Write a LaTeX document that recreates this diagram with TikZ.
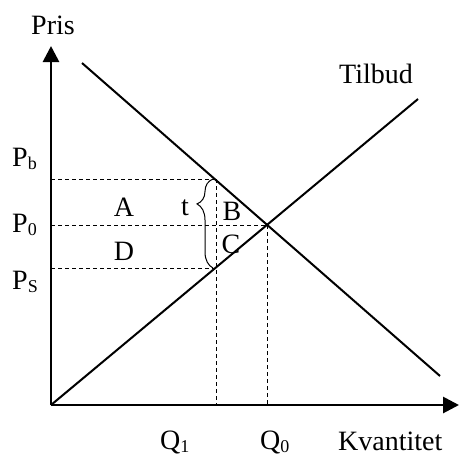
\documentclass[tikz,border=0pt]{standalone}
\usepackage{fontspec}
\setmainfont{Liberation Serif}
\usetikzlibrary{arrows.meta,decorations.pathreplacing}
\newcommand\mysub[1]{\raisebox{-3pt}{\fontsize{18}{18}\selectfont #1}}
\begin{document}
\begin{tikzpicture}[x=1pt,y=-1pt,
  font=\fontsize{28}{32}\selectfont,
  axisline/.style={line width=2.8pt,-{Triangle[width=16pt,length=16pt]}},
  curve/.style={line width=2pt},
  guide/.style={line width=1pt,dash pattern=on 4pt off 3pt},
  lbl/.style={inner sep=0pt,anchor=base},
  lblw/.style={inner sep=0pt,anchor=base west}]
\useasboundingbox (0,0) rectangle (460,456);
% coordinates
\coordinate (O) at (51,405);
\coordinate (Ytop) at (51,46);
\coordinate (Xend) at (459,405);
\coordinate (D1) at (82,63);
\coordinate (D2) at (440,376);
\coordinate (S2) at (418,99);
\coordinate (E) at (267,225);
\coordinate (Bt) at (216,179);
\coordinate (Bs) at (216,268);
\coordinate (Pbax) at (51,179);
\coordinate (P0ax) at (51,225);
\coordinate (Psax) at (51,268);
\coordinate (Q1ax) at (216,405);
\coordinate (Q0ax) at (267,405);
\coordinate (Br1) at (213,268);
\coordinate (Br2) at (213,179);
% guides
\draw[guide] (Pbax) -- (Bt);
\draw[guide] (P0ax) -- (E);
\draw[guide] (Psax) -- (Bs);
\draw[guide] (Bt) -- (Q1ax);
\draw[guide] (E) -- (Q0ax);
% curves
\draw[curve] (D1) -- (D2);
\draw[curve] (O) -- (S2);
% axes
\draw[axisline] (O) -- (Ytop);
\draw[axisline] (O) -- (Xend);
% brace
\draw[line width=1pt,decorate,decoration={brace,amplitude=16pt,aspect=0.72}] (Br1) -- (Br2);
% labels
\node[lblw] (pris) at (31,34) {Pris};
\node[lblw] (pb) at (12,166) {P\mysub{b}};
\node[lblw] (p0) at (12,232) {P\mysub{0}};
\node[lblw] (ps) at (12,289) {P\mysub{S}};
\node[lbl] (la) at (124,216) {A};
\node[lbl] (ld) at (124,260) {D};
\node[lbl] (lt) at (185,215) {t};
\node[lbl] (lb) at (232,220) {B};
\node[lbl] (lc) at (231,253) {C};
\node[inner sep=0pt,anchor=base east] (tilbud) at (413,83) {Tilbud};
\node[lblw] (q1) at (160,449) {Q\mysub{1}};
\node[lblw] (q0) at (260,449) {Q\mysub{0}};
\node[lblw] (kv) at (338,450) {Kvantitet};
\end{tikzpicture}
\end{document}
